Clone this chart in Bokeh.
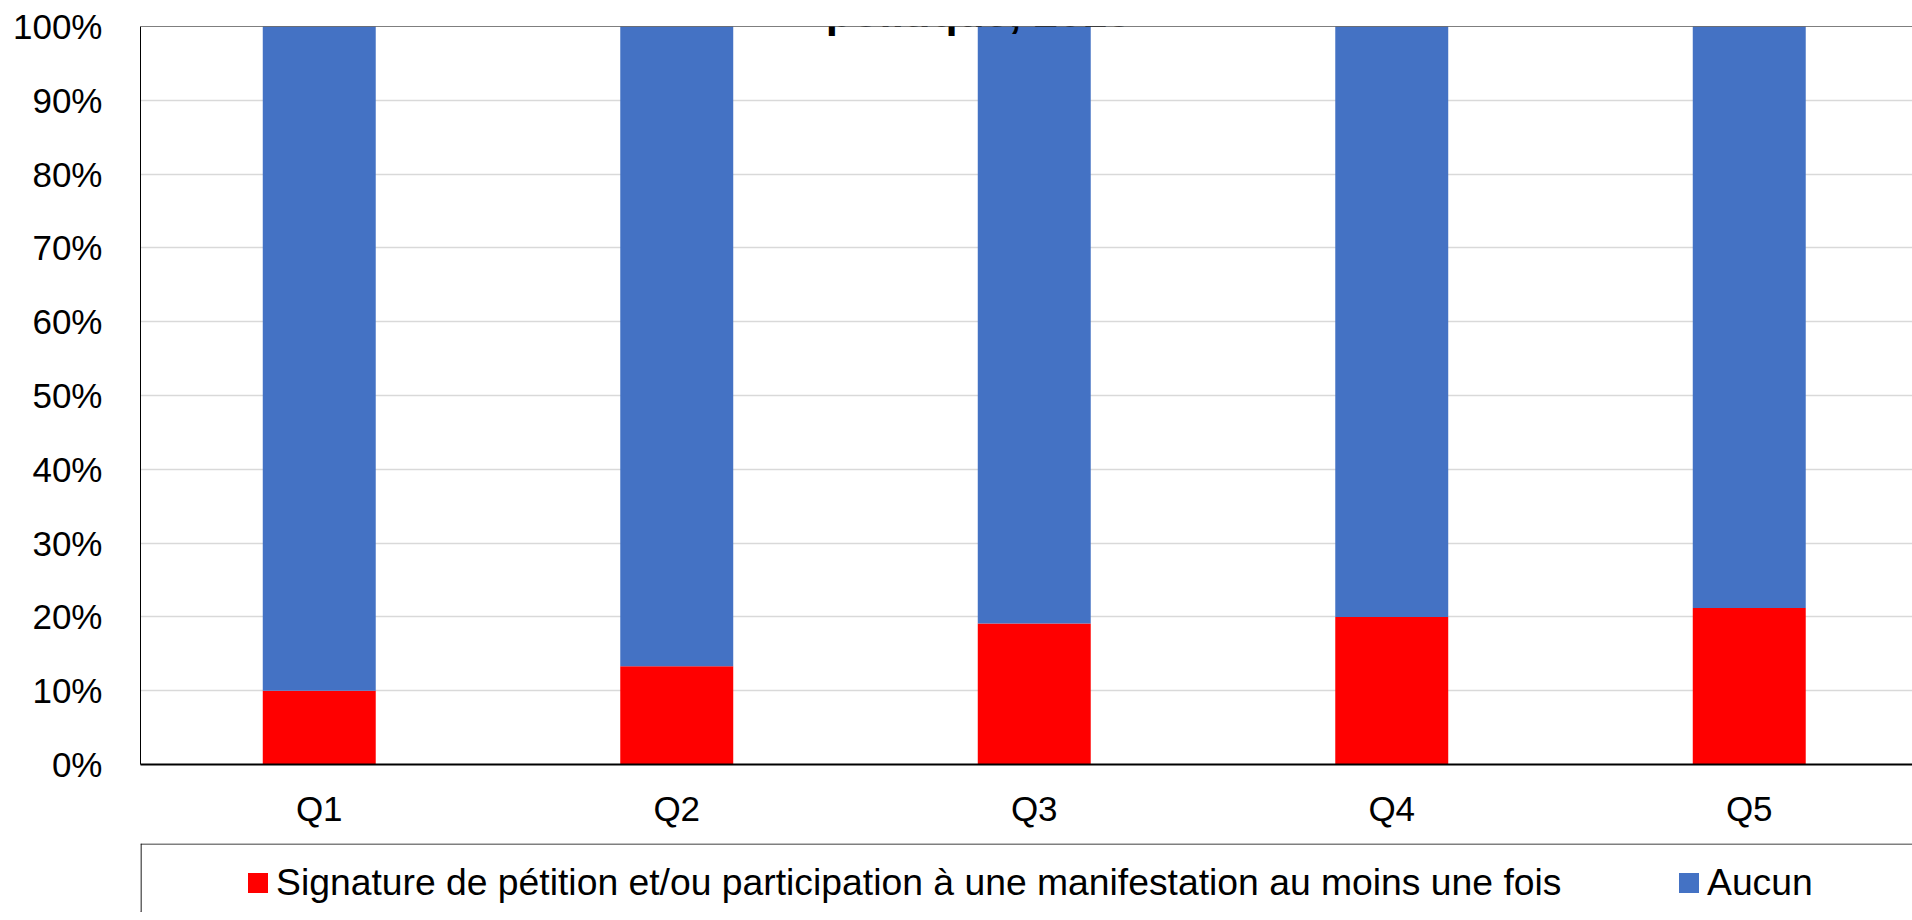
from bokeh.plotting import figure
from bokeh.models import (Range1d, FixedTicker, PrintfTickFormatter, Span, Label,
                          Legend, LegendItem, ColumnDataSource)
from bokeh.layouts import column
from bokeh.embed import file_html
from bokeh.resources import INLINE

# ---- data ----
categories = ["Q1", "Q2", "Q3", "Q4", "Q5"]
petition = [10.0, 13.3, 19.1, 20.0, 21.2]   # Signature de pétition et/ou participation ...
aucun = [90.0, 86.7, 80.9, 80.0, 78.8]      # Aucun
y_ticks = [0, 10, 20, 30, 40, 50, 60, 70, 80, 90, 100]
title_text = "politique, 2018"
legend_labels = ["Signature de pétition et/ou participation à une manifestation au moins une fois", "Aucun"]
colors = ["#FF0000", "#4472C4"]

FONT = "Liberation Sans"

xs = [i + 0.5 for i in range(len(categories))]
src = ColumnDataSource(dict(x=xs, petition=petition, aucun=aucun))

p = figure(width=1912, height=843, x_range=Range1d(0, 1772 / 357.5), y_range=Range1d(0, 100),
           output_backend="svg", toolbar_location=None,
           min_border_left=140, min_border_right=0, min_border_top=26, min_border_bottom=79)
p.outline_line_color = None
p.background_fill_color = "white"
p.border_fill_color = "white"

p.vbar_stack(["petition", "aucun"], x="x", width=0.316, source=src,
             fill_color=colors, line_color=None)

# grid
p.xgrid.visible = False
p.ygrid.ticker = FixedTicker(ticks=y_ticks)
p.ygrid.grid_line_color = "#d9d9d9"
p.ygrid.grid_line_width = 1.5

# y axis
ya = p.yaxis[0]
ya.ticker = FixedTicker(ticks=y_ticks)
ya.formatter = PrintfTickFormatter(format="%d%%")
ya.major_tick_out = 0
ya.major_tick_in = 0
ya.minor_tick_out = 0
ya.minor_tick_in = 0
ya.axis_line_color = "black"
ya.axis_line_width = 1
ya.major_label_standoff = 38
ya.major_label_text_font = FONT
ya.major_label_text_font_size = "35px"
ya.major_label_text_color = "black"

# x axis
xa = p.xaxis[0]
xa.ticker = FixedTicker(ticks=xs)
xa.major_label_overrides = {x: c for x, c in zip(xs, categories)}
xa.major_tick_out = 0
xa.major_tick_in = 0
xa.minor_tick_out = 0
xa.minor_tick_in = 0
xa.axis_line_color = "black"
xa.axis_line_width = 2
xa.major_label_standoff = 24
xa.major_label_text_font = FONT
xa.major_label_text_font_size = "35px"
xa.major_label_text_color = "black"

# top border of the plot area
p.add_layout(Span(location=100, dimension="width", line_color="black", line_width=1))

# title (its upper part is cut by the page top, as in the reference)
p.add_layout(Label(x=(978 - 140) / 357.5, y=100 + 15 / 7.38, text=title_text,
                   text_align="center", text_baseline="alphabetic",
                   text_font=FONT, text_font_style="bold", text_font_size="44px",
                   text_color="black"))

# ---- legend area ----
p2 = figure(width=1912, height=69, x_range=Range1d(0, 1780), y_range=Range1d(0, 69),
            x_axis_location=None, y_axis_location=None,
            min_border_left=132, min_border_right=0, min_border_top=0, min_border_bottom=0,
            output_backend="svg", toolbar_location=None)
p2.outline_line_color = None
p2.grid.visible = False
p2.border_fill_color = "white"
p2.add_layout(Span(location=0.5, dimension="height", line_color="black", line_width=1.2))
p2.add_layout(Span(location=68.5, dimension="width", line_color="black", line_width=1.2))

r1 = p2.vbar(x=[-100], top=[1], width=1, fill_color=colors[0], line_color=None)
r2 = p2.vbar(x=[-100], top=[1], width=1, fill_color=colors[1], line_color=None)


def make_legend(label, r, loc):
    return Legend(items=[LegendItem(label=label, renderers=[r])], location=loc,
                  orientation="horizontal", border_line_color=None,
                  background_fill_alpha=0, padding=0, margin=0,
                  glyph_width=25, glyph_height=25, label_standoff=6,
                  label_text_font=FONT, label_text_font_size="37.3px",
                  label_text_color="black")


p2.add_layout(make_legend(legend_labels[0], r1, (105, 8)))
p2.add_layout(make_legend(legend_labels[1], r2, (1536, 8)))

layout = column(p, p2)

open("out.html", "w").write(file_html(layout, INLINE))
